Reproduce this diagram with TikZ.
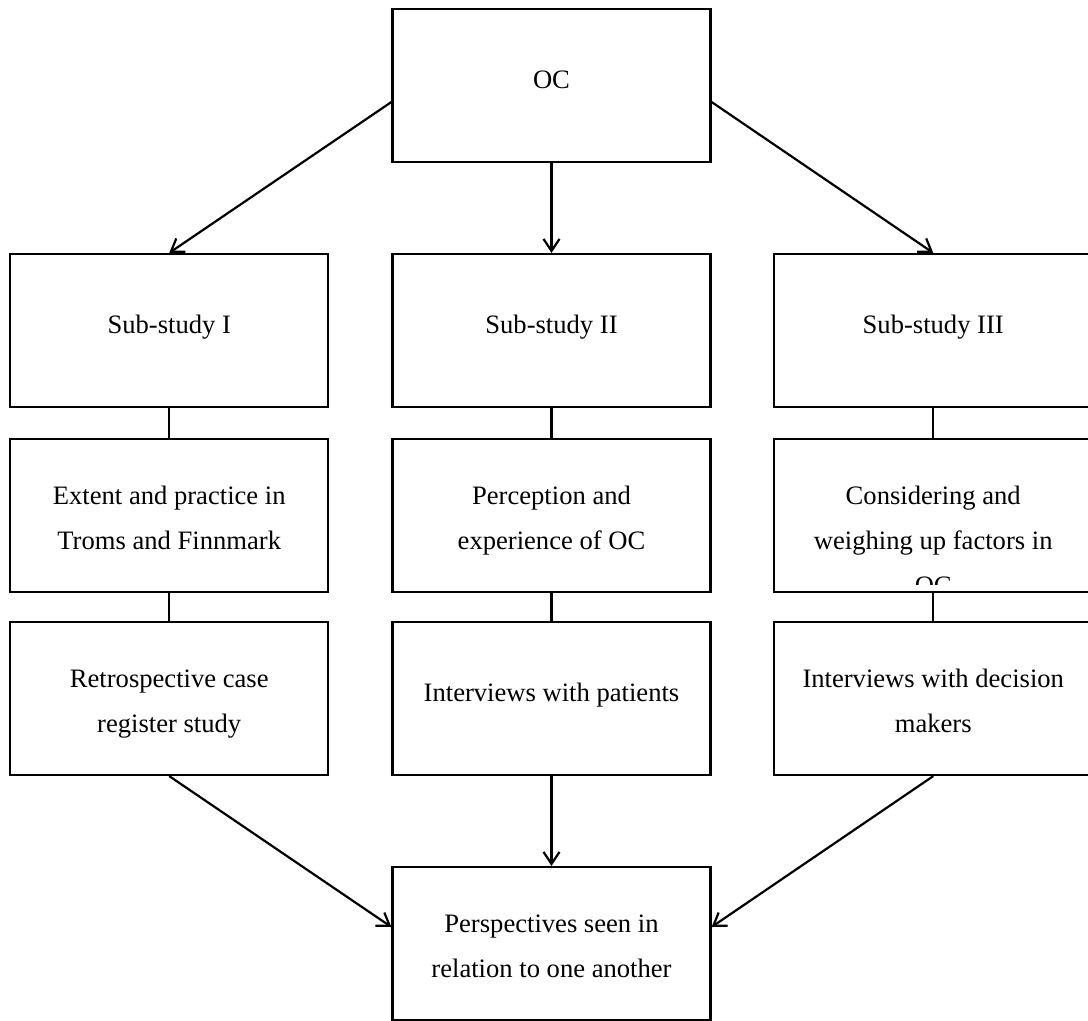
\documentclass[tikz,border=0pt]{standalone}
\usepackage{fontspec}
\setmainfont{Liberation Serif}
\usetikzlibrary{arrows.meta}

\begin{document}
\begin{tikzpicture}[
        x=1pt, y=-1pt,
        every node/.style={
            rectangle,
            draw=black,
            line width=2.2pt,
            minimum width=318pt,
            minimum height=153pt,
            inner sep=0pt,
            align=center,
            font=\fontsize{26.6}{45}\selectfont
        },
        oneline/.style={text height=20pt, text depth=15pt},
        twoline/.style={text height=70pt, text depth=2pt},
        link/.style={line width=2.2pt},
        flow/.style={line width=2.2pt, -{Straight Barb[length=12pt,width=16pt]}}
    ]
    \useasboundingbox (0,0) rectangle (1088,1021);

    % Boxes
    \node[oneline] (oc)  at (551.5,85.5)   {OC};
    \node[oneline] (s1)  at (169.25,330.5) {Sub-study I};
    \node[oneline] (s2)  at (551.5,330.5)  {Sub-study II};
    \node[oneline] (s3)  at (933.25,330.5) {Sub-study III};
    \node[twoline] (a1)  at (169.25,515.5) {Extent and practice in\\Troms and Finnmark};
    \node[twoline] (a2)  at (551.5,515.5)  {Perception and\\experience of OC};
    \node          (a3)  at (933.25,515.5) {};
    \node[twoline] (m1)  at (169.25,698.5) {Retrospective case\\register study};
    \node[oneline] (m2)  at (551.5,698.5)  {Interviews with patients};
    \node[twoline] (m3)  at (933.25,698.5) {Interviews with decision\\makers};
    \node[twoline] (res) at (551.5,943.5)  {Perspectives seen in\\relation to one another};

    % Text that runs out of its box
    \begin{scope}
        \clip (a3.north west) rectangle ([yshift=9pt]a3.south east);
        \node[draw=none, text height=115pt, text depth=2pt] (a3txt)
            at ([yshift=-22pt]a3.center) {Considering and\\weighing up factors in\\OC};
    \end{scope}

    % Connections
    \draw[flow] ([yshift=-16.5pt]oc.west) -- (s1.north);
    \draw[flow] (oc.south) -- (s2.north);
    \draw[flow] ([yshift=-16.5pt]oc.east) -- (s3.north);
    \draw[link] (s1) -- (a1);
    \draw[link] (a1) -- (m1);
    \draw[link] (s2) -- (a2);
    \draw[link] (a2) -- (m2);
    \draw[link] (s3) -- (a3);
    \draw[link] (a3) -- (m3);
    \draw[flow] (m1.south) -- ([yshift=16.5pt]res.west);
    \draw[flow] (m2.south) -- (res.north);
    \draw[flow] (m3.south) -- ([yshift=16.5pt]res.east);

\end{tikzpicture}
\end{document}
